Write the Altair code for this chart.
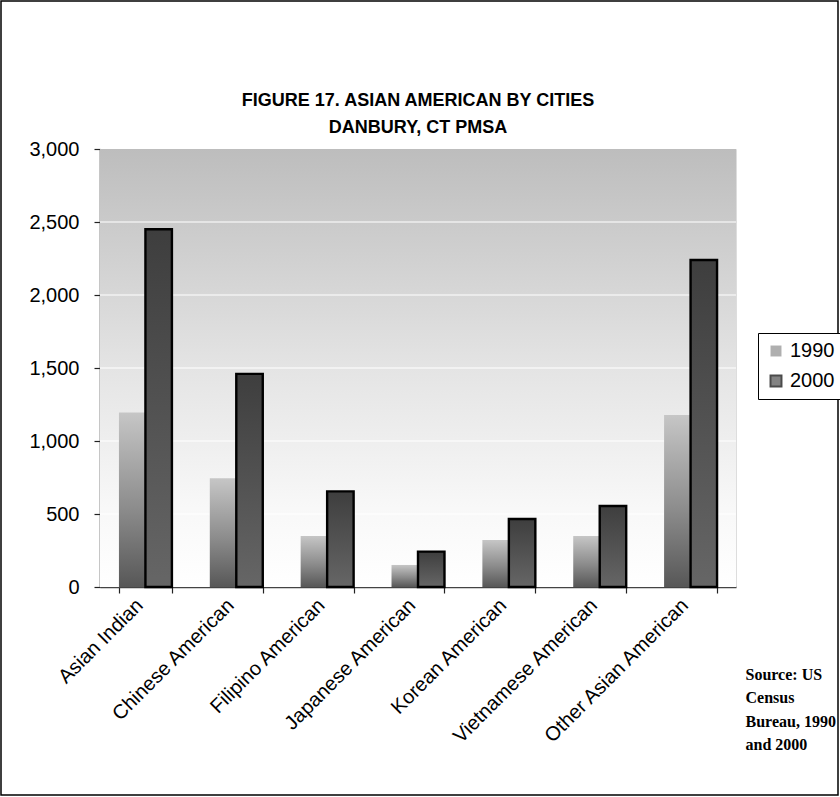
import altair as alt
import pandas as pd

# Asian American population by group, Danbury CT PMSA (1990 vs 2000)
groups = [
    "Asian Indian",
    "Chinese American",
    "Filipino American",
    "Japanese American",
    "Korean American",
    "Vietnamese American",
    "Other Asian American",
]
years = ["1990", "2000"]
pop_1990 = [1195, 745, 350, 151, 322, 349, 1178]
pop_2000 = [2450, 1460, 655, 242, 466, 555, 2240]
y_ticks = [0, 500, 1000, 1500, 2000, 2500, 3000]
grid_ticks = [500, 1000, 1500, 2000, 2500]

title_lines = ["FIGURE 17. ASIAN AMERICAN BY CITIES", "DANBURY, CT PMSA"]
source_lines = ["Source: US", "Census", "Bureau, 1990", "and 2000"]

# layout of the 840x797 canvas
TOTAL_W, TOTAL_H = 840, 797
PAD_L, PAD_T = 100, 149
PLOT_W, PLOT_H = 636, 438
PAD_R = TOTAL_W - PAD_L - PLOT_W
PAD_B = TOTAL_H - PAD_T - PLOT_H
FRAME_W = 1.5

SANS = "Liberation Sans"
SERIF = "Liberation Serif"
LABEL_SIZE = 20

df = pd.DataFrame(
    {
        "group": groups * 2,
        "year": ["1990"] * len(groups) + ["2000"] * len(groups),
        "population": pop_1990 + pop_2000,
    }
)
grid_df = pd.DataFrame({"tick": grid_ticks})

y_scale = alt.Scale(domain=[0, 3000], nice=False, zero=True)
y_axis = alt.Axis(
    values=y_ticks,
    format=",.0f",
    title=None,
    grid=False,
    labelFont=SANS,
    labelFontSize=LABEL_SIZE,
    labelColor="black",
    labelPadding=15,
    tickSize=6,
    tickColor="#222",
    tickWidth=1.2,
    domainColor="#444",
    domainWidth=1.6,
)
x_scale = alt.Scale(domain=groups, paddingInner=0.417, paddingOuter=0.2085)
x_axis = alt.Axis(
    title=source_lines,
    titleFont=SERIF,
    titleFontSize=16,
    titleFontWeight="bold",
    titleColor="black",
    titleAngle=0,
    titleAlign="left",
    titleBaseline="top",
    titleLineHeight=23.5,
    titleX=645,
    titleY=79,
    labelAngle=315,
    labelAlign="right",
    labelBaseline="middle",
    labelFont=SANS,
    labelFontSize=LABEL_SIZE,
    labelColor="black",
    labelPadding=9,
    labelOffset=-6,
    labelLimit=0,
    labelOverlap=False,
    tickBand="extent",
    tickSize=6,
    tickColor="#222",
    tickWidth=1.2,
    domainColor="#444",
    domainWidth=1.6,
)
offset_scale = alt.Scale(domain=years)

# plot-area background: grey at the top fading to white
background = (
    alt.Chart(pd.DataFrame({"a": [0]}))
    .mark_rect(
        color=alt.LinearGradient(
            gradient="linear",
            x1=0, y1=0, x2=0, y2=1,
            stops=[
                alt.GradientStop(offset=0, color="#bdbdbd"),
                alt.GradientStop(offset=0.5, color="#e4e4e4"),
                alt.GradientStop(offset=0.82, color="#f8f8f8"),
                alt.GradientStop(offset=1, color="#ffffff"),
            ],
        )
    )
    .encode(
        x=alt.value(0),
        x2=alt.value(PLOT_W),
        y=alt.value(0),
        y2=alt.value(PLOT_H),
    )
)

grid = (
    alt.Chart(grid_df)
    .mark_rule(color="white", strokeWidth=1.2)
    .encode(y=alt.Y("tick:Q", scale=y_scale, axis=y_axis))
)

bars_1990 = (
    alt.Chart(df)
    .transform_filter(alt.datum.year == "1990")
    .mark_bar(
        color=alt.LinearGradient(
            gradient="linear",
            x1=0, y1=0, x2=0, y2=1,
            stops=[
                alt.GradientStop(offset=0, color="#c6c6c6"),
                alt.GradientStop(offset=0.55, color="#8c8c8c"),
                alt.GradientStop(offset=1, color="#575757"),
            ],
        )
    )
    .encode(
        x=alt.X("group:N", scale=x_scale, axis=x_axis, sort=groups),
        xOffset=alt.XOffset("year:N", scale=offset_scale),
        y=alt.Y("population:Q", scale=y_scale, axis=y_axis),
    )
)

bars_2000 = (
    alt.Chart(df)
    .transform_filter(alt.datum.year == "2000")
    .mark_bar(
        color=alt.LinearGradient(
            gradient="linear",
            x1=0, y1=0, x2=0, y2=1,
            stops=[
                alt.GradientStop(offset=0, color="#3e3e3e"),
                alt.GradientStop(offset=1, color="#666666"),
            ],
        ),
        stroke="black",
        strokeWidth=2.4,
    )
    .encode(
        x=alt.X("group:N", scale=x_scale, axis=x_axis, sort=groups),
        xOffset=alt.XOffset("year:N", scale=offset_scale),
        y=alt.Y("population:Q", scale=y_scale, axis=y_axis),
    )
)

legend_spec = dict(
    title=None,
    orient="none",
    legendX=658,
    legendY=184,
    padding=8,
    rowPadding=10,
    strokeColor="black",
    fillColor="white",
    labelFont=SANS,
    labelFontSize=LABEL_SIZE,
    labelColor="black",
    labelOffset=4,
    symbolType="square",
    symbolSize=120,
    symbolStrokeWidth=2,
)

# legend source: no rows drawn, entries come from the fixed scale domain
legend_layer = (
    alt.Chart(df)
    .transform_filter("false")
    .mark_square(filled=True)
    .encode(
        fill=alt.Fill(
            "year:N",
            scale=alt.Scale(domain=years, range=["#8e8e8e", "#505050"]),
            legend=alt.Legend(**legend_spec),
        ),
        stroke=alt.Stroke(
            "year:N",
            scale=alt.Scale(domain=years, range=["transparent", "black"]),
            legend=alt.Legend(**legend_spec),
        ),
    )
)

# thin frame around the whole figure
frame = (
    alt.Chart(pd.DataFrame({"a": [0]}))
    .mark_rect(fill="transparent", stroke="black", strokeWidth=FRAME_W, clip=False)
    .encode(
        x=alt.value(-PAD_L + 1),
        x2=alt.value(PLOT_W + PAD_R - 2),
        y=alt.value(-PAD_T + 1),
        y2=alt.value(PLOT_H + PAD_B - 2),
    )
)

# the title sits on top of the group bounds (the frame's top edge);
# shift it back down so it rests just above the plot
frame_top = -PAD_T + 1 - FRAME_W / 2
title_dy = (-12) - frame_top

chart = (
    alt.layer(background, grid, bars_1990, bars_2000, legend_layer, frame)
    .properties(
        width=PLOT_W,
        height=PLOT_H,
        padding={"left": PAD_L, "top": PAD_T, "right": PAD_R, "bottom": PAD_B},
        autosize=alt.AutoSizeParams(type="none"),
        title=alt.TitleParams(
            text=title_lines,
            anchor="middle",
            frame="group",
            font=SANS,
            fontSize=18,
            fontWeight="bold",
            color="black",
            lineHeight=27,
            offset=0,
            dy=title_dy,
        ),
    )
    .configure_view(stroke="#8a8a8a", strokeWidth=1.5)
    .configure(background="white")
)

chart.save("out.html", embed_options={"renderer": "svg", "actions": False})
